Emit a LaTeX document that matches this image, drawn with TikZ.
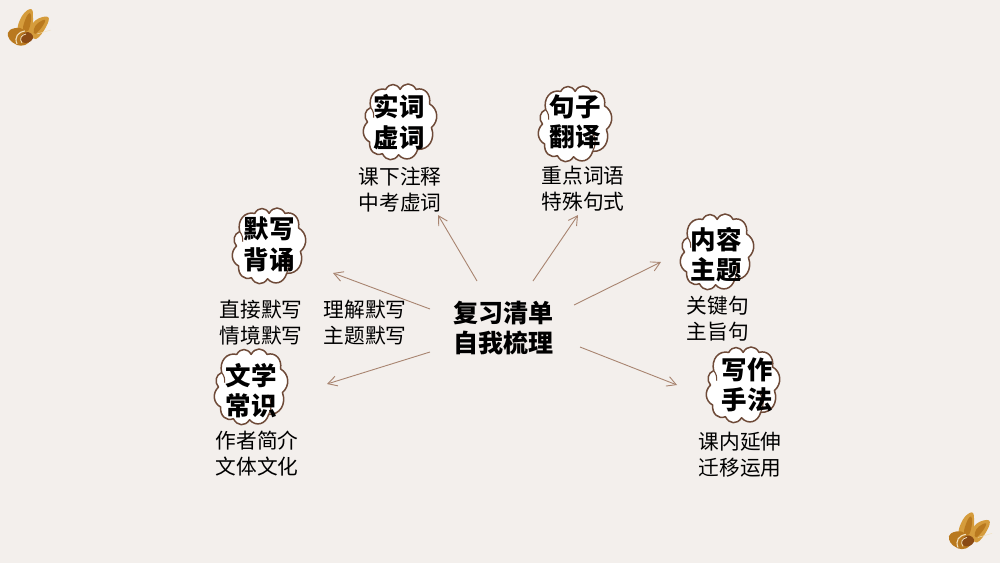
\documentclass[tikz,border=0pt]{standalone}
\usepackage{fontspec}
\setmainfont{Noto Sans CJK SC}
\usetikzlibrary{arrows.meta}
\definecolor{bgc}{HTML}{F3EFEC}
\definecolor{cloudc}{HTML}{6E4A38}
\definecolor{arrowc}{HTML}{A88470}
\definecolor{wingA}{HTML}{B9791F}
\definecolor{wingB}{HTML}{D59C3C}
\definecolor{wingC}{HTML}{8A4A14}
\definecolor{wingD}{HTML}{F2E0BC}
\tikzset{
  x=1pt,y=-1pt,
  puffline/.style={draw=cloudc,line width=1.5pt,line join=round},
  pf/.style={bend left=58,looseness=1.2},
  headtext/.style={font=\bfseries\fontsize{25.5}{30.5}\selectfont,align=center,inner sep=0pt,text=black},
  subtext/.style={font=\fontsize{20.7}{25.5}\selectfont,align=center,inner sep=0pt,text=black},
  maintext/.style={font=\bfseries\fontsize{25}{30}\selectfont,align=center,inner sep=0pt,text=black},
  link/.style={draw=arrowc,line width=0.9pt,-{Straight Barb[length=9pt,width=10pt,line width=0.9pt]}}
}
\newcommand{\puffcloud}[2]{%
  \begin{scope}[shift={(#1-1.5,#2-1)},xscale=0.96,yscale=1.09]
    \path[puffline,fill=white] (-29,-12.3) to[pf] (-13.3,-29) to[pf] (1.7,-29) to[pf] (18.3,-29)
      to[pf] (32.3,-15.7) to[pf] (34.3,6) to[pf] (20,26) to[pf] (0,31) to[pf] (-16.7,30)
      to[pf] (-30,19.3) to[pf] (-32.3,1) to[pf] cycle;
    \draw[puffline,line width=1.1pt] (20,26) to[bend right=35] (19,8);
    \draw[puffline,line width=1.1pt] (-29,-12.3) to[bend left=25] (-26,-3);
  \end{scope}}
\newcommand{\butterfly}[2]{%
  \begin{scope}[shift={(#1,#2)}]
    \fill[wingB] plot[smooth cycle,tension=0.7] coordinates {(18,31) (22,16) (31,9) (33,18) (31,33)};
    \fill[wingA] plot[smooth cycle,tension=0.7] coordinates {(23,29) (26,18) (30,13) (31,20) (28,31)};
    \fill[wingB] plot[smooth cycle,tension=0.7] coordinates {(30,31) (36,20) (48,17) (46,27) (36,39)};
    \fill[wingA] plot[smooth cycle,tension=0.7] coordinates {(34,29) (38,23) (45,20) (42,27) (35,34)};
    \fill[wingA] plot[smooth cycle,tension=0.7] coordinates {(8,36) (10,30) (20,28) (28,33) (32,38) (25,45) (17,45) (12,42)};
    \fill[wingC] plot[smooth cycle,tension=0.7] coordinates {(22,35) (28,32) (33,36) (31,41) (25,43) (21,40)};
    \draw[wingD,line width=1.1pt] (17,44) .. controls (14,37) and (18,32) .. (25,31);
    \draw[wingD,line width=0.8pt] (22,43) .. controls (19,39) and (21,35) .. (26,34);
    \draw[wingD,line width=0.4pt] (37,34) -- (51,30);
  \end{scope}}
\begin{document}
\begin{tikzpicture}
\useasboundingbox[fill=bgc] (0,0) rectangle (1000,563);
\butterfly{0}{0}
\butterfly{941}{503.4}
% clouds
\puffcloud{400}{122}
\puffcloud{575}{124}
\puffcloud{269}{246}
\puffcloud{251}{387}
\puffcloud{717}{252}
\puffcloud{743}{385}
% heads
\node[headtext] (h1) at (399,122) {实词\\虚词};
\node[headtext] (h2) at (575,122) {句子\\翻译};
\node[headtext] (h3) at (269,244.5) {默写\\背诵};
\node[headtext] (h4) at (251,390.5) {文学\\常识};
\node[headtext] (h5) at (716,254.5) {内容\\主题};
\node[headtext] (h6) at (747,385) {写作\\手法};
% subs
\node[subtext] (s1) at (400,189.5) {课下注释\\中考虚词};
\node[subtext] (s2) at (583,188.5) {重点词语\\特殊句式};
\node[subtext] (s3) at (261,322.5) {直接默写\\情境默写};
\node[subtext] (s3b) at (365,322.5) {理解默写\\主题默写};
\node[subtext] (s4) at (257,453.5) {作者简介\\文体文化};
\node[subtext] (s5) at (718,318.5) {关键句\\主旨句};
\node[subtext] (s6) at (740,454.5) {课内延伸\\迁移运用};
\node[maintext] (m) at (503,328) {复习清单\\自我梳理};
% connector ends
\coordinate (a1) at (477,281); \coordinate (b1) at (438,215);
\coordinate (a2) at (533,281); \coordinate (b2) at (578,215);
\coordinate (a3) at (574,305); \coordinate (b3) at (661,262);
\coordinate (a4) at (580,347); \coordinate (b4) at (677,385);
\coordinate (a5) at (430,309); \coordinate (b5) at (333,273);
\coordinate (a6) at (430,352); \coordinate (b6) at (327,384);
\foreach \i in {1,...,6} {\draw[link] (a\i) -- (b\i);}
\end{tikzpicture}
\end{document}
